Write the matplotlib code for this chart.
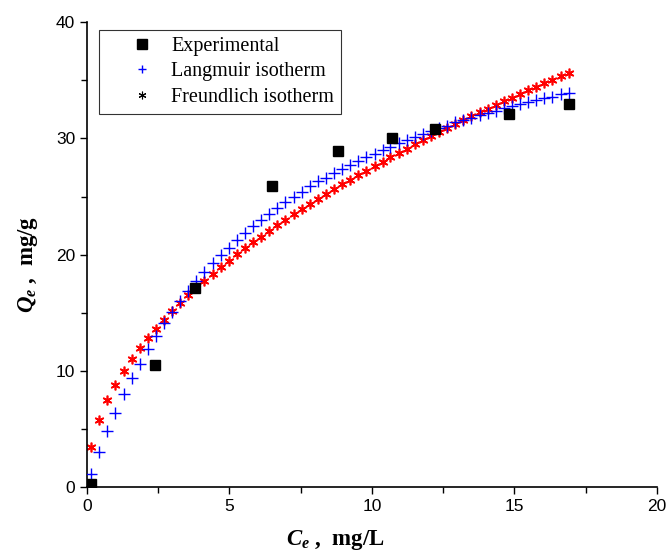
import matplotlib
matplotlib.use("Agg")
import matplotlib.pyplot as plt
from matplotlib.lines import Line2D
from matplotlib.ticker import MultipleLocator

plt.rcParams['mathtext.fontset'] = 'custom'
plt.rcParams['mathtext.it'] = 'Liberation Serif:italic:bold'
plt.rcParams['mathtext.rm'] = 'Liberation Serif:bold'

# experimental data
ce_exp = [0.15, 2.4, 3.8, 6.5, 8.8, 10.7, 12.2, 14.8, 16.9]
qe_exp = [0.3, 10.5, 17.1, 25.9, 28.9, 30.0, 30.8, 32.1, 33.0]

# model curves
ce_fit = [0.15, 0.43, 0.72, 1.00, 1.29, 1.57, 1.85, 2.14, 2.42, 2.71,
          2.99, 3.27, 3.56, 3.84, 4.12, 4.41, 4.69, 4.98, 5.26, 5.54,
          5.83, 6.11, 6.40, 6.68, 6.96, 7.25, 7.53, 7.82, 8.10, 8.38,
          8.67, 8.95, 9.23, 9.52, 9.80, 10.09, 10.37, 10.65, 10.94, 11.22,
          11.51, 11.79, 12.07, 12.36, 12.64, 12.93, 13.21, 13.49, 13.78, 14.06,
          14.35, 14.63, 14.91, 15.20, 15.48, 15.76, 16.05, 16.33, 16.62, 16.90]
q_langmuir = [1.1, 3.0, 4.8, 6.4, 8.0, 9.4, 10.6, 11.9, 13.0, 14.1,
              15.1, 16.0, 16.9, 17.7, 18.5, 19.3, 20.0, 20.6, 21.3, 21.9,
              22.5, 23.0, 23.5, 24.0, 24.5, 25.0, 25.4, 25.9, 26.3, 26.6,
              27.0, 27.4, 27.7, 28.1, 28.4, 28.7, 29.0, 29.3, 29.6, 29.9,
              30.1, 30.4, 30.6, 30.9, 31.1, 31.4, 31.6, 31.8, 32.0, 32.2,
              32.4, 32.6, 32.8, 33.0, 33.1, 33.3, 33.5, 33.6, 33.8, 33.9]
q_freundlich = [3.44, 5.79, 7.48, 8.80, 9.98, 11.00, 11.93, 12.82, 13.63, 14.41,
                15.13, 15.82, 16.50, 17.13, 17.74, 18.34, 18.91, 19.48, 20.02, 20.54,
                21.06, 21.56, 22.06, 22.53, 22.99, 23.46, 23.90, 24.36, 24.79, 25.21,
                25.63, 26.04, 26.44, 26.85, 27.24, 27.63, 28.01, 28.38, 28.76, 29.12,
                29.49, 29.85, 30.20, 30.55, 30.89, 31.24, 31.57, 31.90, 32.24, 32.56,
                32.89, 33.21, 33.52, 33.84, 34.15, 34.46, 34.77, 35.07, 35.37, 35.67]

fig = plt.figure(figsize=(6.69, 5.56), dpi=100)
ax = fig.add_axes([0.130, 0.124, 0.852, 0.836])

asterisk = (6, 2, 0)
ax.plot(ce_fit, q_freundlich, linestyle='none', marker=asterisk, markersize=7,
        markeredgecolor='red', markerfacecolor='red', markeredgewidth=1.2, zorder=2)
ax.plot(ce_fit, q_langmuir, linestyle='none', marker='+', markersize=8,
        color='blue', markeredgewidth=1.0, zorder=3)
ax.plot(ce_exp, qe_exp, linestyle='none', marker='s', markersize=7.5,
        color='black', zorder=4)

ax.set_xlim(0, 20)
ax.set_ylim(0, 40)
ax.xaxis.set_major_locator(MultipleLocator(5))
ax.xaxis.set_minor_locator(MultipleLocator(2.5))
ax.yaxis.set_major_locator(MultipleLocator(10))
ax.yaxis.set_minor_locator(MultipleLocator(5))
ax.tick_params(which='both', direction='out', width=1)
ax.tick_params(which='major', length=5, labelsize=12.5)
ax.tick_params(which='minor', length=4)
for lab in ax.get_xticklabels() + ax.get_yticklabels():
    lab.set_family('Liberation Sans')
ax.spines['top'].set_visible(False)
ax.spines['right'].set_visible(False)
ax.spines['left'].set_linewidth(1.2)
ax.spines['bottom'].set_linewidth(1.2)

ax.set_xlabel(r'$C_e$ ,  mg/L', fontsize=16.5, fontweight='bold',
              family='Liberation Serif')
ax.set_ylabel(r'$Q_e$ ,  mg/g', fontsize=16.5, fontweight='bold',
              family='Liberation Serif')
ax.xaxis.set_label_coords(0.436, -0.088)
ax.yaxis.set_label_coords(-0.082, 0.48)

handles = [
    Line2D([], [], linestyle='none', marker='s', markersize=7, color='black'),
    Line2D([], [], linestyle='none', marker='+', markersize=6, color='blue'),
    Line2D([], [], linestyle='none', marker=asterisk, markersize=5.5,
           color='black', markeredgewidth=0.8),
]
leg = ax.legend(handles, ['Experimental', 'Langmuir isotherm', 'Freundlich isotherm'],
                loc='upper left', bbox_to_anchor=(0.021, 0.983),
                prop={'family': 'Liberation Serif', 'size': 14.5},
                frameon=True, fancybox=False, edgecolor='black',
                handletextpad=-0.35, handlelength=3.58, borderpad=0.35,
                labelspacing=0.3, borderaxespad=0)
leg.get_frame().set_linewidth(0.8)

fig.savefig('out.png', dpi=100)
